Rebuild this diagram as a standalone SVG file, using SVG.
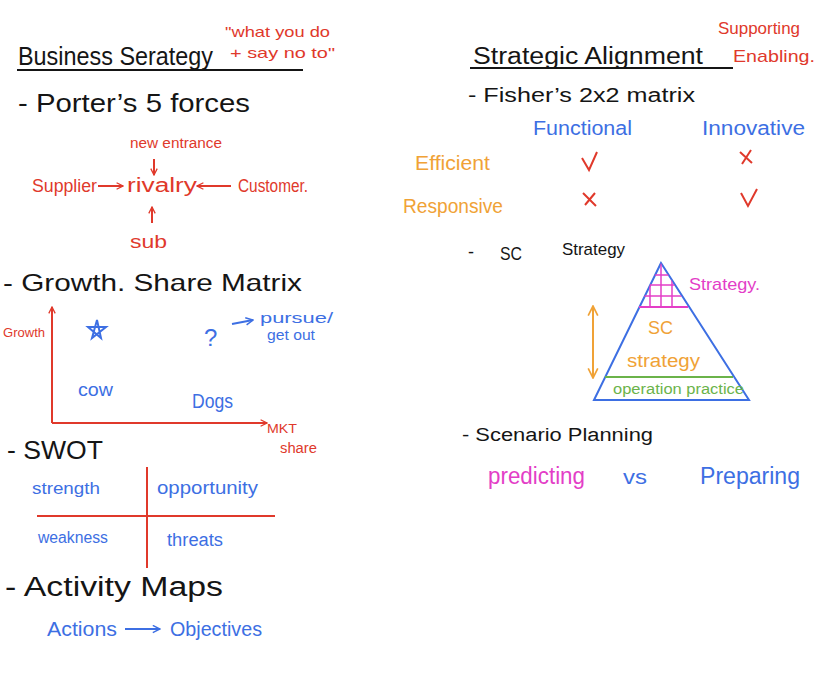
<svg xmlns="http://www.w3.org/2000/svg" width="834" height="679" viewBox="0 0 834 679">
<style>
text{font-family:"Liberation Sans","DejaVu Sans",sans-serif}
.k{fill:#151515}.r{fill:#e0392b}.b{fill:#3d6fe3}.o{fill:#f0a236}.p{fill:#e33ec7}.g{fill:#6bb34a}
.lk{stroke:#151515;stroke-width:2;fill:none}
.lr{stroke:#e0392b;stroke-width:2;fill:none}
.lb{stroke:#3d6fe3;stroke-width:2;fill:none}
.lo{stroke:#f0a236;stroke-width:2;fill:none}
.lp{stroke:#e33ec7;stroke-width:2;fill:none}
.lg{stroke:#6bb34a;stroke-width:2;fill:none}
</style>
<defs>
<marker id="ar" viewBox="0 0 10 10" refX="9" refY="5" markerWidth="8" markerHeight="8" markerUnits="userSpaceOnUse" orient="auto-start-reverse"><path d="M1,1 L9,5 L1,9" fill="none" stroke="#e0392b" stroke-width="1.6"/></marker>
<marker id="ab" viewBox="0 0 10 10" refX="9" refY="5" markerWidth="9" markerHeight="9" markerUnits="userSpaceOnUse" orient="auto-start-reverse"><path d="M1,1 L9,5 L1,9" fill="none" stroke="#3d6fe3" stroke-width="1.6"/></marker>
<marker id="ao" viewBox="0 0 10 10" refX="9" refY="5" markerWidth="12" markerHeight="12" markerUnits="userSpaceOnUse" orient="auto-start-reverse"><path d="M1,1 L9,5 L1,9" fill="none" stroke="#f0a236" stroke-width="1.4"/></marker>
<clipPath id="topTri"><polygon points="661,263 639,307 688,307"/></clipPath>
</defs>
<rect width="834" height="679" fill="#ffffff"/>

<g id="business-strategy">
<text class="k" x="18" y="65" font-size="25" textLength="195" lengthAdjust="spacingAndGlyphs">Business  Serategy</text>
<line class="lk" x1="17" y1="70" x2="303" y2="70"/>
<text class="r" x="225" y="37" font-size="15" textLength="105" lengthAdjust="spacingAndGlyphs">"what  you do</text>
<text class="r" x="230" y="58" font-size="15" textLength="105" lengthAdjust="spacingAndGlyphs">+ say no to"</text>
</g>

<g id="porter">
<text class="k" x="18" y="112" font-size="26" textLength="232" lengthAdjust="spacingAndGlyphs">- Porter’s  5  forces</text>
<text class="r" x="130" y="148" font-size="14" textLength="92" lengthAdjust="spacingAndGlyphs">new entrance</text>
<text class="r" x="32" y="192" font-size="18" textLength="65" lengthAdjust="spacingAndGlyphs">Supplier</text>
<text class="r" x="127" y="192" font-size="20" textLength="70" lengthAdjust="spacingAndGlyphs">rivalry</text>
<text class="r" x="238" y="192" font-size="18" textLength="70" lengthAdjust="spacingAndGlyphs">Customer.</text>
<text class="r" x="130" y="248" font-size="19" textLength="37" lengthAdjust="spacingAndGlyphs">sub</text>
</g>

<g id="growth-share">
<text class="k" x="3" y="291" font-size="24" textLength="299" lengthAdjust="spacingAndGlyphs">- Growth.  Share   Matrix</text>
<text class="r" x="3" y="337" font-size="13" textLength="42" lengthAdjust="spacingAndGlyphs">Growth</text>
<text class="r" x="267" y="433" font-size="13" textLength="30" lengthAdjust="spacingAndGlyphs">MKT</text>
<text class="r" x="280" y="453" font-size="14" textLength="37" lengthAdjust="spacingAndGlyphs">share</text>
<path class="lb" d="M97,320 L101,338 L88,327 L106,327 L92,338 Z" stroke-width="1.8"/>
<text class="b" x="204" y="346" font-size="24">?</text>
<text class="b" x="260" y="323" font-size="15" textLength="73" lengthAdjust="spacingAndGlyphs">pursue/</text>
<text class="b" x="267" y="340" font-size="14" textLength="48" lengthAdjust="spacingAndGlyphs">get out</text>
<text class="b" x="78" y="396" font-size="19" textLength="35" lengthAdjust="spacingAndGlyphs">cow</text>
<text class="b" x="192" y="408" font-size="20" textLength="41" lengthAdjust="spacingAndGlyphs">Dogs</text>
</g>

<g id="swot">
<text class="k" x="7" y="459" font-size="26" textLength="96" lengthAdjust="spacingAndGlyphs">- SWOT</text>
<line class="lr" x1="147" y1="467" x2="147" y2="568"/>
<line class="lr" x1="37" y1="516" x2="275" y2="516"/>
<text class="b" x="32" y="494" font-size="17" textLength="68" lengthAdjust="spacingAndGlyphs">strength</text>
<text class="b" x="157" y="494" font-size="19" textLength="101" lengthAdjust="spacingAndGlyphs">opportunity</text>
<text class="b" x="38" y="543" font-size="16" textLength="70" lengthAdjust="spacingAndGlyphs">weakness</text>
<text class="b" x="167" y="546" font-size="18" textLength="56" lengthAdjust="spacingAndGlyphs">threats</text>
</g>

<g id="activity-maps">
<text class="k" x="5" y="596" font-size="27" textLength="218" lengthAdjust="spacingAndGlyphs">-  Activity   Maps</text>
<text class="b" x="47" y="636" font-size="20" textLength="70" lengthAdjust="spacingAndGlyphs">Actions</text>
<text class="b" x="170" y="636" font-size="20" textLength="92" lengthAdjust="spacingAndGlyphs">Objectives</text>
</g>

<g id="strategic-alignment">
<text class="k" x="473" y="64" font-size="23" textLength="230" lengthAdjust="spacingAndGlyphs">Strategic   Alignment</text>
<line class="lk" x1="470" y1="68" x2="733" y2="68"/>
<text class="r" x="718" y="34" font-size="17" textLength="82" lengthAdjust="spacingAndGlyphs">Supporting</text>
<text class="r" x="733" y="62" font-size="17" textLength="82" lengthAdjust="spacingAndGlyphs">Enabling.</text>
</g>

<g id="fisher">
<text class="k" x="468" y="102" font-size="20" textLength="227" lengthAdjust="spacingAndGlyphs">- Fisher’s   2x2   matrix</text>
<text class="b" x="533" y="135" font-size="20" textLength="99" lengthAdjust="spacingAndGlyphs">Functional</text>
<text class="b" x="702" y="135" font-size="20" textLength="103" lengthAdjust="spacingAndGlyphs">Innovative</text>
<text class="o" x="415" y="170" font-size="20" textLength="75" lengthAdjust="spacingAndGlyphs">Efficient</text>
<text class="o" x="403" y="213" font-size="20" textLength="100" lengthAdjust="spacingAndGlyphs">Responsive</text>
<path class="lr" d="M582,158 L589,170 L597,152"/>
<path class="lr" d="M740,152 L752,163 M751,150 L742,164"/>
<path class="lr" d="M583,193 L596,206 M595,193 L585,205"/>
<path class="lr" d="M741,193 L748,206 L757,189"/>
</g>

<g id="sc-strategy">
<text class="k" x="468" y="258" font-size="18">-</text>
<text class="k" x="500" y="260" font-size="19" textLength="22" lengthAdjust="spacingAndGlyphs">SC</text>
<text class="k" x="562" y="255" font-size="17" textLength="63" lengthAdjust="spacingAndGlyphs">Strategy</text>
<polygon points="661,263 594,400 749,400" class="lb"/>
<g clip-path="url(#topTri)" stroke="#e33ec7" stroke-width="1.5">
<line x1="635" y1="275" x2="695" y2="275"/>
<line x1="635" y1="285" x2="695" y2="285"/>
<line x1="635" y1="296" x2="695" y2="296"/>
<line x1="650" y1="260" x2="650" y2="310"/>
<line x1="661" y1="260" x2="661" y2="310"/>
<line x1="672" y1="260" x2="672" y2="310"/>
</g>
<line class="lp" x1="639" y1="307" x2="688" y2="307"/>
<text class="p" x="689" y="290" font-size="17" textLength="71" lengthAdjust="spacingAndGlyphs">Strategy.</text>
<line class="lo" x1="593" y1="306" x2="593" y2="378" marker-start="url(#ao)" marker-end="url(#ao)"/>
<text class="o" x="648" y="334" font-size="19" textLength="25" lengthAdjust="spacingAndGlyphs">SC</text>
<text class="o" x="627" y="367" font-size="18" textLength="73" lengthAdjust="spacingAndGlyphs">strategy</text>
<line class="lg" x1="605" y1="377" x2="733" y2="377"/>
<text class="g" x="613" y="394" font-size="14" textLength="131" lengthAdjust="spacingAndGlyphs">operation practice</text>
</g>

<g id="scenario">
<text class="k" x="462" y="441" font-size="18" textLength="191" lengthAdjust="spacingAndGlyphs">- Scenario   Planning</text>
<text class="p" x="488" y="484" font-size="23" textLength="97" lengthAdjust="spacingAndGlyphs">predicting</text>
<text class="b" x="623" y="484" font-size="21" textLength="24" lengthAdjust="spacingAndGlyphs">vs</text>
<text class="b" x="700" y="484" font-size="23" textLength="100" lengthAdjust="spacingAndGlyphs">Preparing</text>
</g>

<g id="connectors">
<line class="lr" x1="154" y1="159" x2="154" y2="175" marker-end="url(#ar)"/>
<line class="lr" x1="98" y1="186" x2="123" y2="186" marker-end="url(#ar)"/>
<line class="lr" x1="231" y1="186" x2="197" y2="186" marker-end="url(#ar)"/>
<line class="lr" x1="152" y1="223" x2="152" y2="207" marker-end="url(#ar)"/>
<polyline class="lr" points="52,423 52,307" marker-end="url(#ar)"/>
<line class="lr" x1="52" y1="423" x2="267" y2="423" marker-end="url(#ar)"/>
<line class="lb" x1="232" y1="324" x2="253" y2="320" marker-end="url(#ab)" stroke-width="1.6"/>
<line class="lb" x1="125" y1="629" x2="160" y2="629" marker-end="url(#ab)"/>
</g>
</svg>
